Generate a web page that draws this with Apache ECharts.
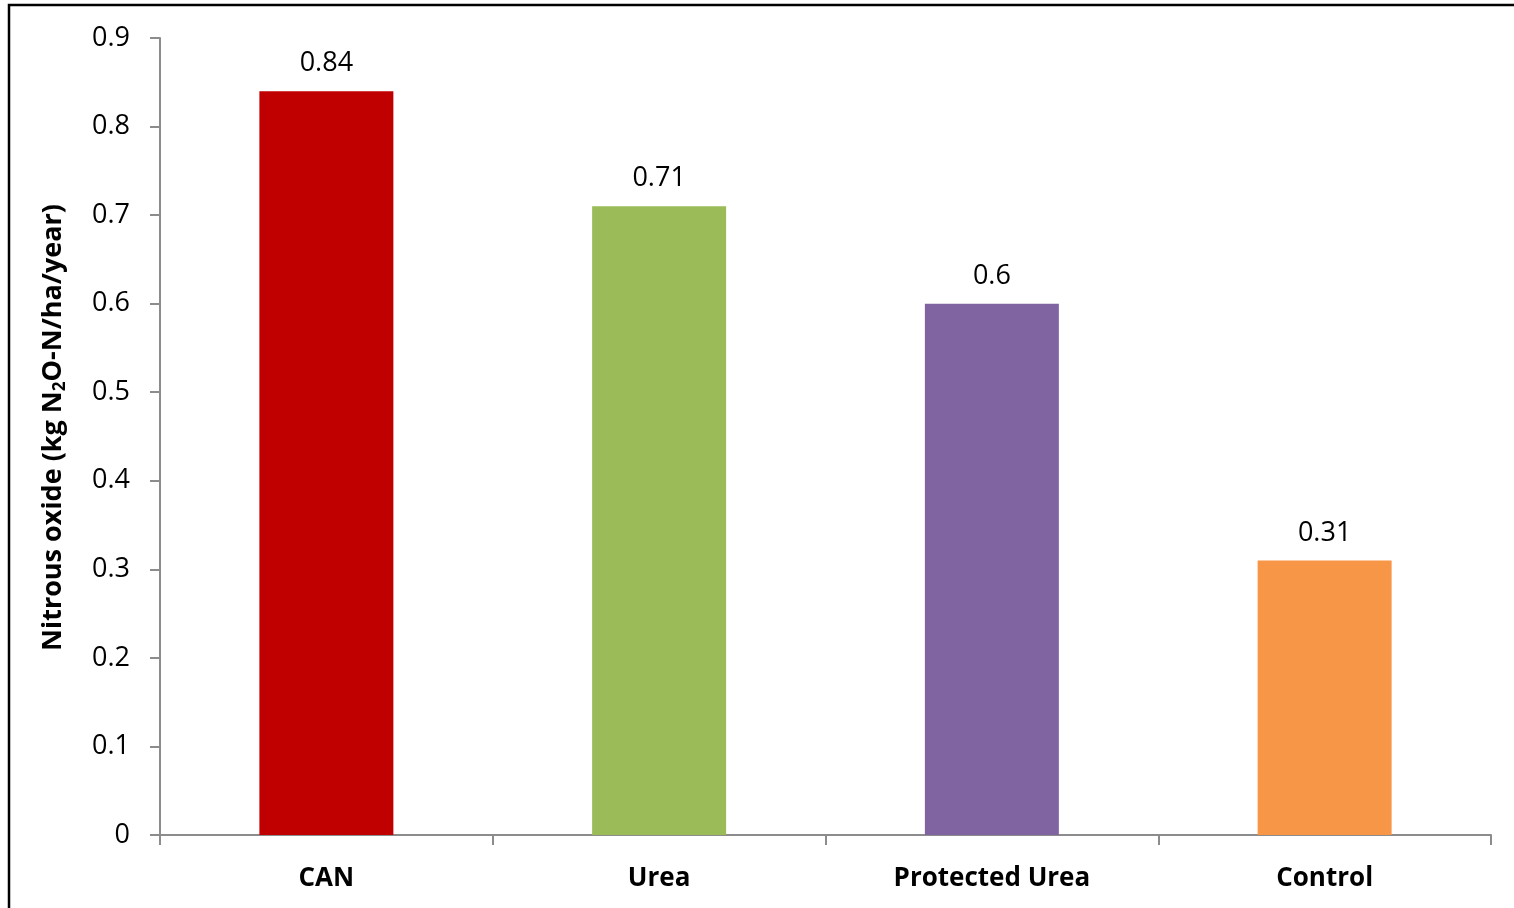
<!DOCTYPE html>
<html lang="en" style="width: 100%; height: 100%">
<head>
  <meta charset="utf-8">
</head>
<body style="margin: 0; width: 100%; height: 100%">
  <div id="container" style="width: 1514px; height: 908px"></div>

  <script type="text/javascript" src="https://cdn.jsdelivr.net/npm/echarts@6/dist/echarts.min.js"></script>
  <script type="text/javascript">

var categories = ['CAN', 'Urea', 'Protected Urea', 'Control'];
var values = [0.84, 0.71, 0.6, 0.31];
var colors = ['#C00000', '#9BBB59', '#8064A2', '#F79646'];
var yTicks = [0, 0.1, 0.2, 0.3, 0.4, 0.5, 0.6, 0.7, 0.8, 0.9];

var dom = document.getElementById('container');
var myChart = echarts.init(dom, null, { renderer: 'canvas' });

var font = '"Open Sans", sans-serif';

var option = {
  animation: false,
  backgroundColor: '#fff',
  graphic: [{
    type: 'rect',
    shape: { x: 9, y: 5, width: 1520, height: 920 },
    style: { fill: 'none', stroke: '#000', lineWidth: 2.5 }
  }],
  grid: {
    left: 160,
    right: 23,
    top: 38,
    bottom: 73
  },
  xAxis: {
    type: 'category',
    data: categories,
    axisLine: { lineStyle: { color: '#8c8c8c', width: 2 } },
    axisTick: { show: true, length: 10, alignWithLabel: false, lineStyle: { color: '#8c8c8c', width: 2 } },
    axisLabel: {
      color: '#000',
      fontFamily: font,
      fontWeight: 'bold',
      fontSize: 26,
      margin: 31
    }
  },
  yAxis: {
    type: 'value',
    min: 0,
    max: 0.9,
    interval: 0.1,
    splitLine: { show: false },
    axisLine: { show: true, lineStyle: { color: '#8c8c8c', width: 2 } },
    axisTick: { show: true, length: 10, lineStyle: { color: '#8c8c8c', width: 2 } },
    axisLabel: {
      color: '#000',
      fontFamily: font,
      fontSize: 27,
      margin: 30,
      formatter: function (v) {
        return yTicks.indexOf(Math.round(v * 10) / 10) >= 0 ? String(Math.round(v * 10) / 10) : '';
      }
    },
    name: '{t|Nitrous oxide (kg N}{s|2}{t|O-N/ha/year)}',
    nameLocation: 'middle',
    nameGap: 91,
    nameRotate: 90,
    nameTextStyle: {
      padding: [0, 0, 0, 18],
      rich: {
        t: { fontFamily: font, fontWeight: 'bold', fontSize: 27, color: '#000', lineHeight: 32 },
        s: { fontFamily: font, fontWeight: 'bold', fontSize: 17, color: '#000', lineHeight: 20, verticalAlign: 'bottom' }
      }
    }
  },
  series: [{
    type: 'bar',
    barWidth: 134,
    data: values.map(function (v, i) {
      return { value: v, itemStyle: { color: colors[i] } };
    }),
    label: {
      show: true,
      position: 'top',
      distance: 14,
      color: '#000',
      fontFamily: font,
      fontSize: 27
    }
  }]
};

myChart.setOption(option);
window.addEventListener('resize', myChart.resize);

  </script>
</body>
</html>
